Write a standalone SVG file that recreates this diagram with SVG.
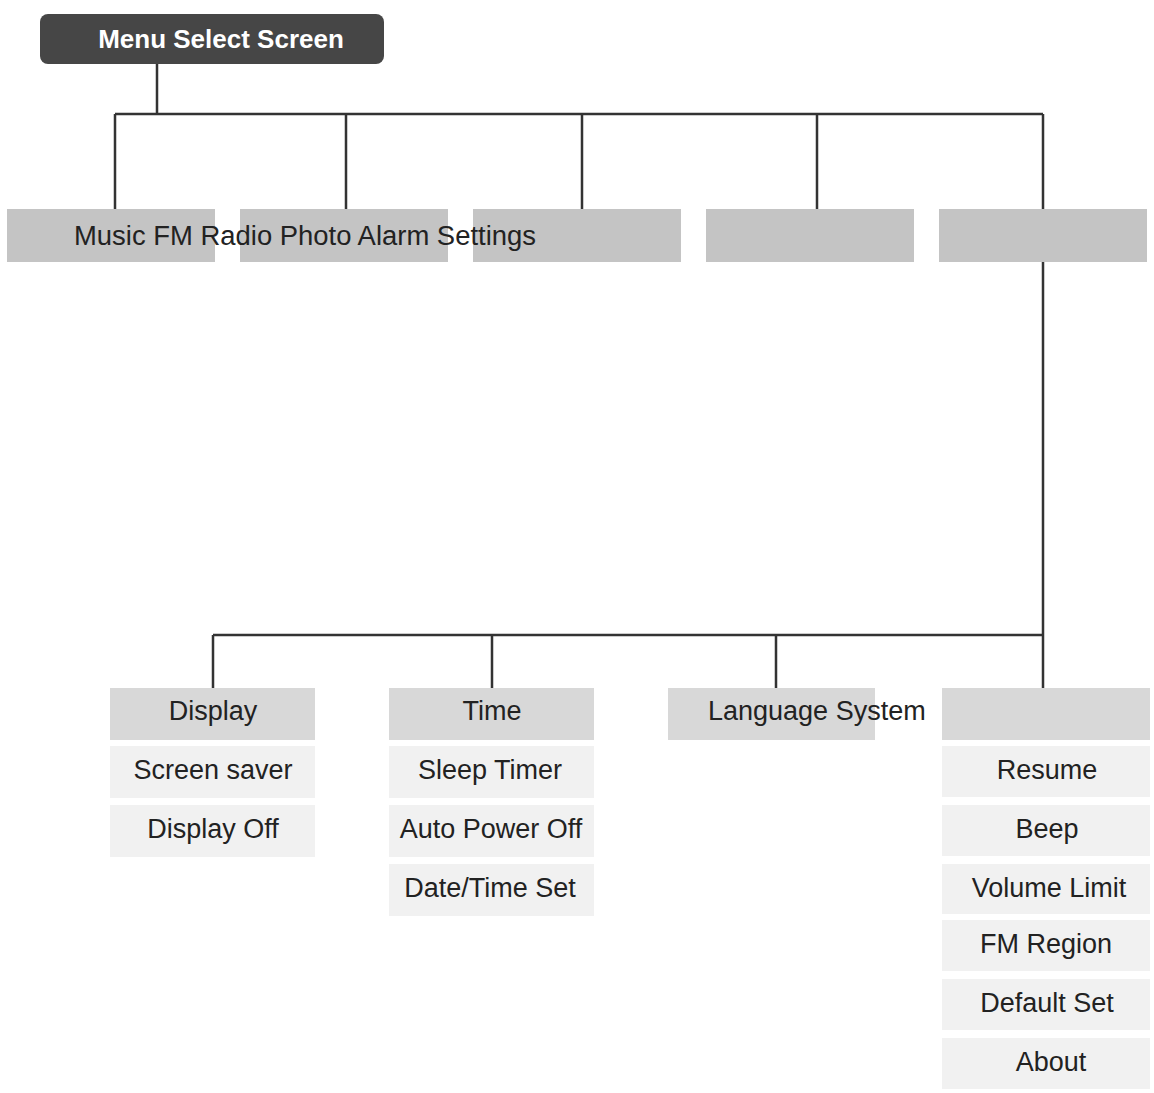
<svg xmlns="http://www.w3.org/2000/svg" width="1154" height="1093" viewBox="0 0 1154 1093">
<style>
text{font-family:"Liberation Sans",Arial,sans-serif;font-size:27px;fill:#222}
.top{fill:#c4c4c4}
.mid{fill:#d8d8d8}
.sub{fill:#f1f1f1}
.c{text-anchor:middle}
#connectors path{stroke:#333;stroke-width:2.5;fill:none}
</style>
<rect width="1154" height="1093" fill="#fff"/>
<g id="connectors">
<path d="M157 64V114M115 114H1043M115 114V209M346 114V209M582 114V209M817 114V209M1043 114V209M1043 262V688M213 635H1043M213 635V688M492 635V688M776 635V688"/>
</g>
<g id="root"><rect x="40" y="14" width="344" height="50" rx="8" fill="#464646"/><text x="221" y="48" class="c" style="fill:#fff;font-weight:bold;font-size:26px">Menu Select Screen</text></g>
<g id="top-row">
<rect class="top" x="7" y="209" width="208" height="53"/>
<rect class="top" x="240" y="209" width="208" height="53"/>
<rect class="top" x="473" y="209" width="208" height="53"/>
<rect class="top" x="706" y="209" width="208" height="53"/>
<rect class="top" x="939" y="209" width="208" height="53"/>
<text x="74" y="245" textLength="462" lengthAdjust="spacingAndGlyphs">Music FM Radio Photo Alarm Settings</text>
</g>
<g id="display">
<rect class="mid" x="110" y="688" width="205" height="52"/><text class="c" x="213" y="720">Display</text>
<rect class="sub" x="110" y="746" width="205" height="52"/><text class="c" x="213" y="779">Screen saver</text>
<rect class="sub" x="110" y="805" width="205" height="52"/><text class="c" x="213" y="838">Display Off</text>
</g>
<g id="time">
<rect class="mid" x="389" y="688" width="205" height="52"/><text class="c" x="492" y="720">Time</text>
<rect class="sub" x="389" y="746" width="205" height="52"/><text class="c" x="490" y="779">Sleep Timer</text>
<rect class="sub" x="389" y="805" width="205" height="52"/><text class="c" x="491" y="838">Auto Power Off</text>
<rect class="sub" x="389" y="864" width="205" height="52"/><text class="c" x="490" y="897">Date/Time Set</text>
</g>
<g id="language">
<rect class="mid" x="668" y="688" width="207" height="52"/><text x="708" y="720">Language System</text>
</g>
<g id="system">
<rect class="mid" x="942" y="688" width="208" height="52"/>
<rect class="sub" x="942" y="746" width="208" height="51"/><text class="c" x="1047" y="779">Resume</text>
<rect class="sub" x="942" y="805" width="208" height="51"/><text class="c" x="1047" y="838">Beep</text>
<rect class="sub" x="942" y="864" width="208" height="50"/><text class="c" x="1049" y="897">Volume Limit</text>
<rect class="sub" x="942" y="920" width="208" height="51"/><text class="c" x="1046" y="953">FM Region</text>
<rect class="sub" x="942" y="979" width="208" height="51"/><text class="c" x="1047" y="1012">Default Set</text>
<rect class="sub" x="942" y="1038" width="208" height="51"/><text class="c" x="1051" y="1071">About</text>
</g>
</svg>
